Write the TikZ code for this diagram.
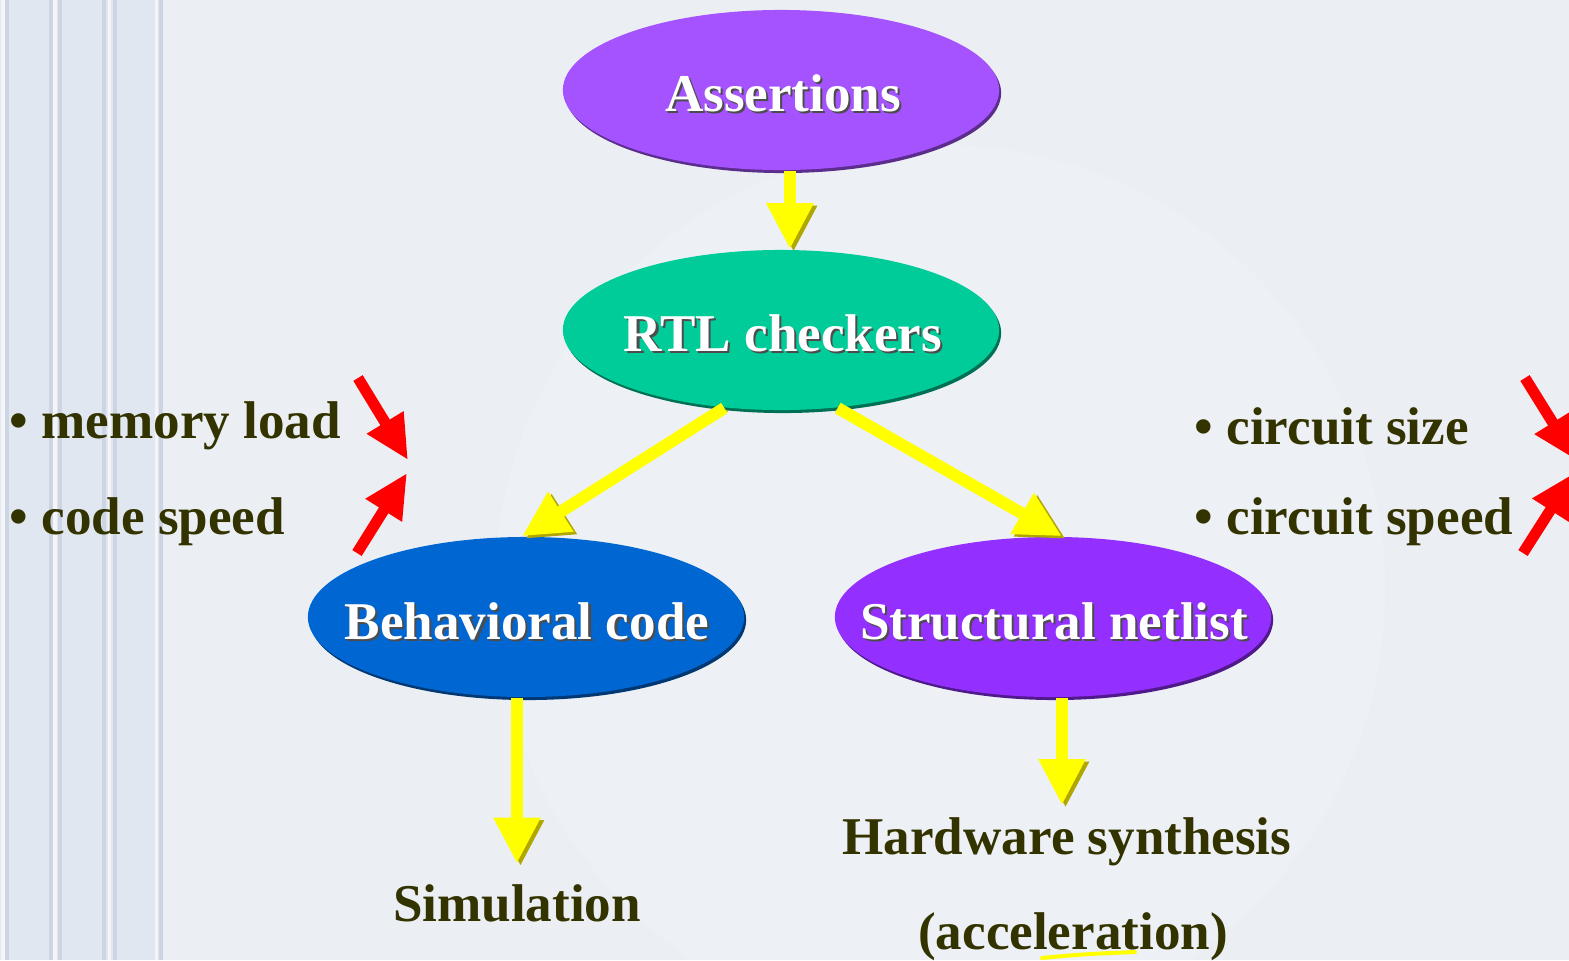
\documentclass[tikz,border=0pt]{standalone}
\usepackage{fontspec}
\setmainfont{Liberation Serif}
\usetikzlibrary{arrows.meta,shapes.geometric,calc,shadows}

\definecolor{paper}{HTML}{EBEFF3}
\definecolor{panel}{HTML}{E1E7F1}
\definecolor{panelline}{HTML}{CDD5E2}
\definecolor{olive}{HTML}{333300}
\definecolor{cAssert}{HTML}{A552FF}
\definecolor{cRtl}{HTML}{00CC99}
\definecolor{cBeh}{HTML}{0066D2}
\definecolor{cNet}{HTML}{9330FF}
\definecolor{ylw}{HTML}{FFFF00}
\definecolor{ylwdark}{HTML}{B0A600}
\definecolor{rd}{HTML}{FF0000}
\definecolor{rddark}{HTML}{A00000}

\newcommand{\shtext}[1]{\rlap{\hspace{0.6pt}\raisebox{-0.6pt}{\color{black!70}#1}}{\color{white}#1}}

\tikzset{
  blob/.style={ellipse, minimum width=4.36cm, minimum height=1.60cm, inner sep=0pt,
    fill=#1, drop shadow={shadow xshift=0.02cm, shadow yshift=-0.03cm, fill=#1!55!black, opacity=1}},
  inlabel/.style={font=\bfseries\fontsize{15.1}{18}\selectfont, inner sep=0pt},
  plain/.style={font=\bfseries\fontsize{15.1}{18}\selectfont, text=olive, inner sep=0pt},
  yarrow/.style={draw=ylw, line width=0.12cm, -{Triangle[length=0.46cm,width=0.44cm]},
    preaction={draw=ylwdark, transform canvas={shift={(0.035cm,-0.025cm)}}}},
  rarrow/.style={draw=rd, line width=0.11cm, -{Triangle[length=0.44cm,width=0.40cm]},
    preaction={draw=rddark, transform canvas={shift={(0.035cm,-0.01cm)}}}},
}

\begin{document}
\begin{tikzpicture}[x=0.01cm, y=-0.01cm]
\useasboundingbox (0,0) rectangle (1569,960);
\clip (0,0) rectangle (1569,960);

% backdrop
\fill[paper] (0,0) rectangle (1569,960);
\fill[white, opacity=0.12] (940,590) circle [radius=4.45cm];

% striped side panel
\fill[panel] (0,0) rectangle (161,960);
\foreach \xx in {7,51,60,104,115,161}
  \draw[panelline, line width=0.035cm] (\xx,0) -- (\xx,960);
\foreach \xx in {3,55,109,156}
  \draw[white!60!panel, line width=0.03cm] (\xx,0) -- (\xx,960);

% flow nodes
\node[blob=cAssert] (assert) at (781,90) {};
\node[blob=cRtl]    (rtl)    at (781,330) {};
\node[blob=cBeh]    (beh)    at (526,617) {};
\node[blob=cNet]    (net)    at (1053,617) {};

\node[inlabel] (assertT) at (783,94)  {\shtext{Assertions}};
\node[inlabel] (rtlT)    at (783,334) {\shtext{RTL checkers}};
\node[inlabel] (behT)    at (527,622) {\shtext{Behavioral code}};
\node[inlabel] (netT)    at (1054,622) {\shtext{Structural netlist}};

% outcomes
\node[plain] (sim) at (517,903) {Simulation};
\node[plain] (hw)  at (1067,842) {Hardware synthesis};
\node[plain] (acc) at (1073,937) {(acceleration)};

% side remarks
\node[plain, anchor=west] (mem)  at (9,426)    {• memory load};
\node[plain, anchor=west] (cspd) at (9,522)    {• code speed};
\node[plain, anchor=west] (size) at (1194,426) {• circuit size};
\node[plain, anchor=west] (cirs) at (1194,522) {• circuit speed};

% yellow flow arrows
\draw[yarrow] ($(assert.south)+(9,0)$) -- ($(rtl.north)+(9,0)$);
\draw[yarrow] (rtl.234) -- ($(beh.north)+(-4,0)$);
\draw[yarrow] (rtl.306) -- ($(net.north)+(9,0)$);
\draw[yarrow] ($(beh.south)+(-9,0)$) -- ($(sim.north)+(0,-20)$);
\draw[yarrow] ($(net.south)+(9,0)$) -- ($(hw.north)+(-5,-12)$);

% red trend arrows
\coordinate (memA) at (358,378);  \coordinate (memB) at (408,460);
\coordinate (spdA) at (357,553);  \coordinate (spdB) at (407,473);
\coordinate (sizA) at (1525,378); \coordinate (sizB) at (1576,460);
\coordinate (cspA) at (1523,553); \coordinate (cspB) at (1574,473);
\draw[rarrow] (memA) -- (memB);
\draw[rarrow] (spdA) -- (spdB);
\draw[rarrow] (sizA) -- (sizB);
\draw[rarrow] (cspA) -- (cspB);

% underline stroke beneath the last word
\draw[ylw, line width=0.04cm, line cap=round] (1042,958) .. controls (1080,954) and (1110,953) .. (1135,952);
\end{tikzpicture}
\end{document}
